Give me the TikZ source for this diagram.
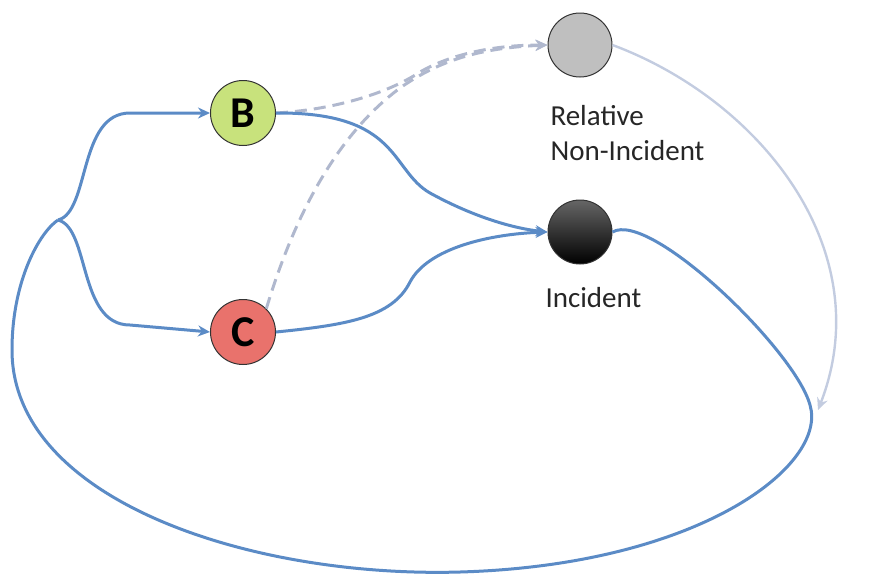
\documentclass[tikz,border=0pt]{standalone}
\usepackage{fontspec}
\setmainfont{Carlito}
\usetikzlibrary{arrows.meta}
\definecolor{edgeblue}{HTML}{5B8BC6}
\definecolor{dashblue}{HTML}{B0B8CE}
\definecolor{lightblue}{HTML}{C3CCE0}
\definecolor{bfill}{HTML}{C8E27C}
\definecolor{cfill}{HTML}{E9726C}
\begin{document}
\begin{tikzpicture}[x=1pt,y=-1pt,
  state/.style={circle,draw=black!80,line width=1pt,minimum size=65pt,inner sep=0pt,font=\fontsize{44}{44}\selectfont\bfseries},
  flow/.style={draw=edgeblue,line width=3pt,-{Stealth[length=12pt,width=11pt]}},
  flowplain/.style={draw=edgeblue,line width=3pt},
  dflow/.style={draw=dashblue,line width=3pt,dash pattern=on 12pt off 7pt,-{Stealth[length=12pt,width=11pt,open]}},
  lflow/.style={draw=lightblue,line width=2.4pt,-{Stealth[length=12pt,width=11pt]}},
  lbl/.style={font=\fontsize{29}{35}\selectfont,text=black!85}]
\useasboundingbox (0,0) rectangle (890,576);
\node[state,fill=bfill] (B) at (243,113) {B};
\node[state,fill=cfill] (C) at (243,332) {C};
\node[state,fill=black!25,minimum size=64pt] (R) at (580,45) {};
\node[state,top color=black!60,bottom color=black,minimum size=64pt] (I) at (580,232) {};
\node[lbl,anchor=base west,align=left] (rl) at (547,125) {Relative};
\node[lbl,anchor=base west,align=left] (rn) at (547,160) {Non-Incident};
\node[lbl,anchor=base west] (il) at (542,307) {Incident};
\coordinate (S) at (58,220);
% dashed paths
\draw[dflow] (B.east) .. controls (330,110) and (385,95) .. (420,72) .. controls (455,52) and (500,45) .. (R.west);
\draw[dflow] (C.north east) .. controls (290,230) and (330,140) .. (400,88) .. controls (440,60) and (480,48) .. (R.west);
% light path
\draw[lflow] (R.east) .. controls (760,100) and (880,250) .. (818,410);
% blue paths
\draw[flow] (S) .. controls (90,212) and (78,113) .. (130,113) -- (B.west);
\draw[flow] (S) .. controls (90,228) and (78,325) .. (130,325) -- (C.west);
\draw[flow] (B.east) .. controls (400,112) and (390,170) .. (430,193) .. controls (470,215) and (510,228) .. (I.west);
\draw[flow] (C.east) .. controls (345,325) and (392,318) .. (410,282) .. controls (428,248) and (490,234) .. (I.west);
\draw[flowplain] (I.east) .. controls (650,210) and (795,350) .. (810,405) .. controls (828,465) and (700,565) .. (460,572) .. controls (250,578) and (12,500) .. (12,350) .. controls (12,280) and (40,232) .. (S);
\end{tikzpicture}
\end{document}
